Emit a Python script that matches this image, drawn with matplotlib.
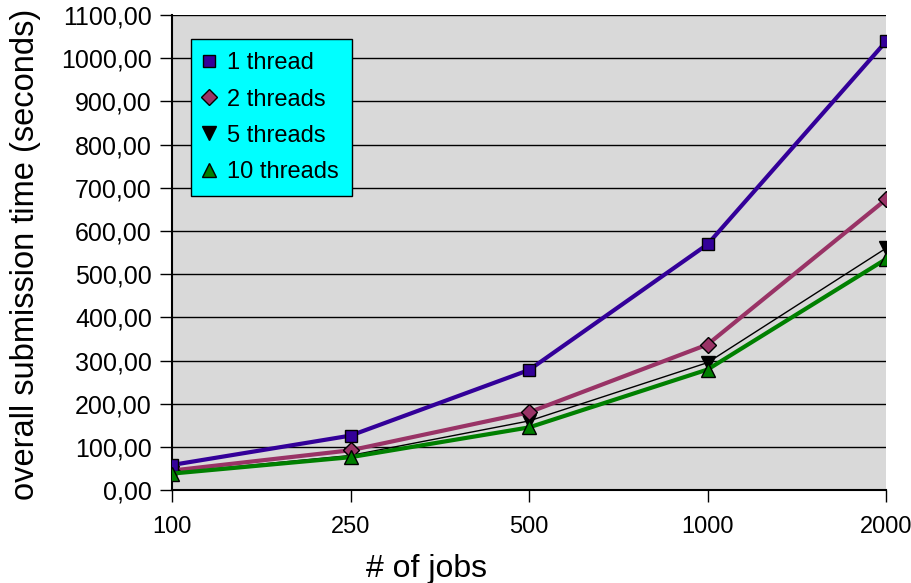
import numpy as np
import matplotlib
matplotlib.use("Agg")
from matplotlib import pyplot as plt
from matplotlib.ticker import FuncFormatter

plt.rcParams["font.family"] = ["Liberation Sans", "DejaVu Sans"]

jobs = ["100", "250", "500", "1000", "2000"]
t1 = [58, 126, 278, 569, 1039]
t2 = [45, 92, 180, 337, 673]
t5 = [40, 80, 160, 295, 560]
t10 = [38, 76, 145, 279, 535]

fig = plt.figure(figsize=(9.12, 5.83), dpi=100)
ax = fig.add_axes([0.1886, 0.1595, 0.7829, 0.8145])
ax.set_facecolor("#d9d9d9")

x = np.arange(len(jobs))
ax.plot(x, t1, color="#330099", lw=3, marker="s", ms=9, mfc="#330099", mec="black", mew=1, label="1 thread", zorder=5)
ax.plot(x, t2, color="#993366", lw=3, marker="D", ms=8, mfc="#993366", mec="black", mew=1, label="2 threads", zorder=4)
ax.plot(x, t5, color="black", lw=1, marker="v", ms=10, mfc="black", mec="black", mew=1, label="5 threads", zorder=3)
ax.plot(x, t10, color="#008000", lw=3, marker="^", ms=10, mfc="#008000", mec="black", mew=1, label="10 threads", zorder=6)

ax.set_xlim(0, 4)
ax.set_ylim(0, 1100)
ax.set_xticks(x)
ax.set_xticklabels(jobs)
ax.set_yticks(np.arange(0, 1101, 100))
ax.yaxis.set_major_formatter(FuncFormatter(lambda v, p: f"{v:.2f}".replace(".", ",")))
ax.grid(axis="y", color="black", lw=1)
ax.set_axisbelow(True)
for s in ["top", "right"]:
    ax.spines[s].set_visible(False)
ax.spines["left"].set_linewidth(1.5)
ax.spines["bottom"].set_linewidth(1.5)
ax.tick_params(axis="both", direction="out", length=8.5, width=1, colors="black")
ax.tick_params(axis="y", labelsize=18, pad=6)
ax.tick_params(axis="x", labelsize=17, pad=10)

ax.set_xlabel("# of jobs", fontsize=23)
ax.xaxis.set_label_coords(0.356, -0.135)
ax.set_ylabel("overall submission time (seconds)", fontsize=23.5)
ax.yaxis.set_label_coords(-0.183, 0.497)

leg = ax.legend(loc="upper left", bbox_to_anchor=(0.0266, 0.949), borderaxespad=0, fontsize=17,
                frameon=True, fancybox=False, facecolor="cyan", edgecolor="black", framealpha=1,
                handlelength=0.4, handletextpad=0.58, labelspacing=0.6, borderpad=0.55)
leg.get_frame().set_linewidth(1)
for h in leg.get_lines():
    h.set_linestyle("none")

fig.savefig("out.png", dpi=100)
